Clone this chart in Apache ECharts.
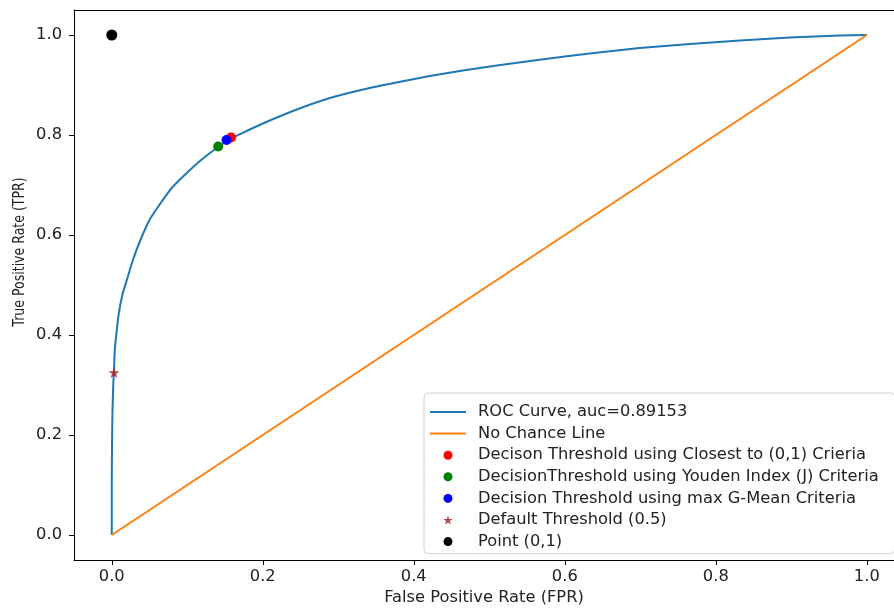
<!DOCTYPE html>
<html>
<head>
<meta charset="utf-8">
<script src="https://cdn.jsdelivr.net/npm/echarts@6/dist/echarts.min.js"></script>
<style>html,body{margin:0;padding:0;background:#fff}#c{width:894px;height:611px}</style>
</head>
<body>
<div id="c"></div>
<script>
// ROC curve (FPR, TPR)
const rocFPR = [0, 0, 0.0005, 0.001, 0.002, 0.003, 0.004, 0.006, 0.009, 0.014, 0.02, 0.028, 0.038, 0.05, 0.063, 0.08, 0.1, 0.12, 0.141, 0.158, 0.18, 0.2, 0.245, 0.289, 0.333, 0.377, 0.421, 0.465, 0.51, 0.554, 0.6, 0.633, 0.699, 0.766, 0.832, 0.898, 0.964, 1.0];
const rocTPR = [0, 0.1, 0.2, 0.25, 0.30, 0.33, 0.37, 0.40, 0.44, 0.48, 0.51, 0.55, 0.59, 0.63, 0.66, 0.695, 0.725, 0.752, 0.776, 0.793, 0.809, 0.823, 0.851, 0.874, 0.891, 0.905, 0.918, 0.929, 0.939, 0.948, 0.957, 0.963, 0.974, 0.982, 0.989, 0.995, 0.999, 1.0];
const chanceFPR = [0, 1];
const chanceTPR = [0, 1];
const aucText = 'ROC Curve, auc=0.89153';
const closestPt = [0.158, 0.795];
const youdenPt = [0.141, 0.777];
const gmeanPt = [0.152, 0.790];
const defaultPt = [0.003, 0.325];
const idealPt = [0, 1];
const tickValues = [0, 0.2, 0.4, 0.6, 0.8, 1.0];
const xLabel = 'False Positive Rate (FPR)';
const yLabel = 'True Positive Rate (TPR)';
const names = [aucText, 'No Chance Line', 'Decison Threshold using Closest to (0,1) Crieria',
  'DecisionThreshold using Youden Index (J) Criteria', 'Decision Threshold using max G-Mean Criteria',
  'Default Threshold (0.5)', 'Point (0,1)'];

const FONT = 'DejaVu Sans';
const FS = 16.3;
const starPath = 'path://M50,0 L61.8,36.3 L100,36.3 L69.1,58.8 L80.9,95.1 L50,72.7 L19.1,95.1 L30.9,58.8 L0,36.3 L38.2,36.3 Z';

const chart = echarts.init(document.getElementById('c'), null, {renderer: 'canvas'});
const XMIN = -0.05, XMAX = 1.036;
const axisCommon = {
  type: 'value',
  splitLine: {show: false},
  axisLine: {show: true, onZero: false, lineStyle: {color: '#000', width: 1}},
  axisTick: {show: true, length: 5, customValues: tickValues, lineStyle: {color: '#000', width: 1}},
  axisLabel: {customValues: tickValues, formatter: v => v.toFixed(1), color: '#222', fontFamily: FONT, fontSize: FS}
};
chart.setOption({
  animation: false,
  backgroundColor: '#fff',
  grid: {left: 74, top: 10, right: 0, bottom: 51, show: false},
  xAxis: [
    Object.assign({}, axisCommon, {
      min: XMIN, max: XMAX, position: 'bottom',
      axisLabel: Object.assign({}, axisCommon.axisLabel, {margin: 9}),
      name: xLabel, nameLocation: 'middle', nameGap: 29,
      nameTextStyle: {color: '#222', fontFamily: FONT, fontSize: FS}
    }),
    {type: 'value', min: XMIN, max: XMAX, position: 'top', splitLine: {show: false},
     axisLine: {show: true, onZero: false, lineStyle: {color: '#000', width: 1}},
     axisTick: {show: false}, axisLabel: {show: false}}
  ],
  yAxis: Object.assign({}, axisCommon, {
    min: -0.05, max: 1.05,
    axisLabel: Object.assign({}, axisCommon.axisLabel, {margin: 12})
  }),
  graphic: [{
    type: 'text', x: 20, y: 252, rotation: Math.PI / 2, scaleX: 0.77,
    style: {text: yLabel, fontFamily: FONT, fontSize: FS, fill: '#222', align: 'center', verticalAlign: 'middle'}
  }],
  legend: {
    orient: 'vertical', left: 424, top: 393,
    padding: [11, 16, 4, 5],
    itemWidth: 36, itemHeight: 9, itemGap: 5.6,
    backgroundColor: 'rgba(255,255,255,0.8)', borderColor: '#d0d0d0', borderWidth: 1, borderRadius: 4,
    textStyle: {fontFamily: FONT, fontSize: FS, lineHeight: 16, color: '#222', padding: [0, 0, 0, 7]},
    data: names.map((n, i) => i < 2 ? {name: n, itemStyle: {opacity: 0}} : n)
  },
  series: [
    {name: names[0], type: 'line', data: rocFPR.map((x, i) => [x, rocTPR[i]]), showSymbol: false, symbol: 'none',
     smooth: 0.2, lineStyle: {color: '#1f77b4', width: 2}, itemStyle: {color: '#1f77b4'}, z: 2},
    {name: names[1], type: 'line', data: chanceFPR.map((x, i) => [x, chanceTPR[i]]), showSymbol: false, symbol: 'none',
     lineStyle: {color: '#ff7f0e', width: 2}, itemStyle: {color: '#ff7f0e'}, z: 3},
    {name: names[2], type: 'scatter', data: [closestPt], symbol: 'circle', symbolSize: 10, itemStyle: {color: '#ff0000', opacity: 1}, z: 4},
    {name: names[3], type: 'scatter', data: [youdenPt], symbol: 'circle', symbolSize: 10, itemStyle: {color: '#008000', opacity: 1}, z: 5},
    {name: names[4], type: 'scatter', data: [gmeanPt], symbol: 'circle', symbolSize: 10, itemStyle: {color: '#0000ff', opacity: 1}, z: 6},
    {name: names[5], type: 'scatter', data: [defaultPt], symbol: starPath, symbolSize: 11, itemStyle: {color: '#a52a2a', opacity: 0.85}, z: 7},
    {name: names[6], type: 'scatter', data: [idealPt], symbol: 'circle', symbolSize: 11, itemStyle: {color: '#000', opacity: 1}, z: 8}
  ]
});
</script>
</body>
</html>
